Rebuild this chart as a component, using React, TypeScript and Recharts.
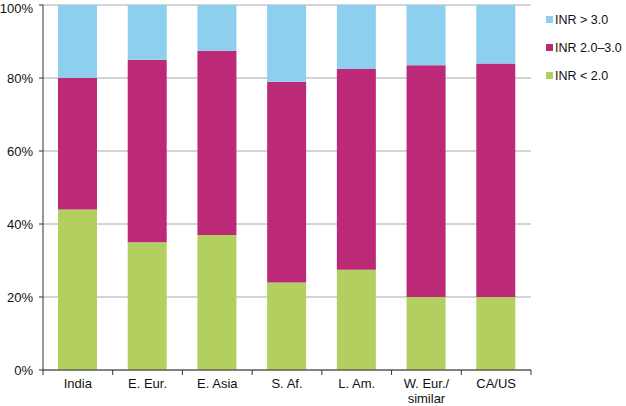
import React from "react";
import { Bar, BarChart, CartesianGrid, XAxis, YAxis } from "recharts";

const regions = ["India", "E. Eur.", "E. Asia", "S. Af.", "L. Am.", "W. Eur./\nsimilar", "CA/US"];
const inrLow = [44, 35, 37, 24, 27.5, 20, 20];
const inrMid = [36, 50, 50.5, 55, 55, 63.5, 64];
const inrHigh = [20, 15, 12.5, 21, 17.5, 16.5, 16];
const yTicks = [0, 20, 40, 60, 80, 100];

const series = [
  { key: "high", name: "INR > 3.0", color: "#8ccfef" },
  { key: "mid", name: "INR 2.0\u20133.0", color: "#bc2a77" },
  { key: "low", name: "INR < 2.0", color: "#b3cf5f" },
];

const W = 626;
const H = 406;
const M = { top: 5, right: 95, bottom: 0, left: 0 };
const Y_W = 43;
const BAND = (W - M.left - M.right - Y_W) / regions.length;
const FONT = "'Liberation Sans', Arial, sans-serif";

const data = regions.map((r, i) => ({
  name: r,
  low: inrLow[i],
  mid: inrMid[i],
  high: inrHigh[i],
}));

// category labels sit between boundary tick marks
const XTick = (props: any) => {
  const { x, y, payload, index } = props;
  const lines = String(payload.value).split("\n");
  const half = BAND / 2;
  return (
    <g>
      <line x1={x + half} x2={x + half} y1={y} y2={y + 5} stroke="#333" />
      {index === 0 && <line x1={x - half} x2={x - half} y1={y} y2={y + 5} stroke="#333" />}
      {lines.map((l, i) => (
        <text
          key={i}
          x={x}
          y={y + 18 + i * 15}
          textAnchor="middle"
          fontSize={13}
          fontFamily={FONT}
          fill="#111"
        >
          {l}
        </text>
      ))}
    </g>
  );
};

export default function App() {
  return (
    <div style={{ position: "absolute", left: 0, top: 0, width: W, height: H, background: "#fff" }}>
      <BarChart width={W} height={H} data={data} margin={M} barSize={39}>
        <CartesianGrid vertical={false} stroke="#a8a8a8" />
        <XAxis
          dataKey="name"
          interval={0}
          height={36}
          tickSize={0}
          tickMargin={0}
          tickLine={false}
          axisLine={{ stroke: "#333" }}
          tick={<XTick />}
        />
        <YAxis
          width={Y_W}
          domain={[0, 100]}
          ticks={yTicks}
          tickFormatter={(v) => `${v}%`}
          tickSize={4}
          tickMargin={6}
          axisLine={{ stroke: "#333" }}
          tickLine={{ stroke: "#333" }}
          tick={{ fontSize: 13, fontFamily: FONT, fill: "#111" }}
        />
        {series
          .slice()
          .reverse()
          .map((s) => (
            <Bar key={s.key} dataKey={s.key} stackId="a" fill={s.color} isAnimationActive={false} />
          ))}
      </BarChart>
      <div
        style={{
          position: "absolute",
          left: 546,
          top: 6,
          width: 80,
          whiteSpace: "nowrap",
          fontFamily: FONT,
          fontSize: 12.5,
          color: "#111",
        }}
      >
        {series.map((s) => (
          <div key={s.key} style={{ display: "flex", alignItems: "center", height: 28 }}>
            <span style={{ width: 7, height: 7, flexShrink: 0, background: s.color, marginRight: 2, marginTop: -2 }} />
            <span>{s.name}</span>
          </div>
        ))}
      </div>
    </div>
  );
}
